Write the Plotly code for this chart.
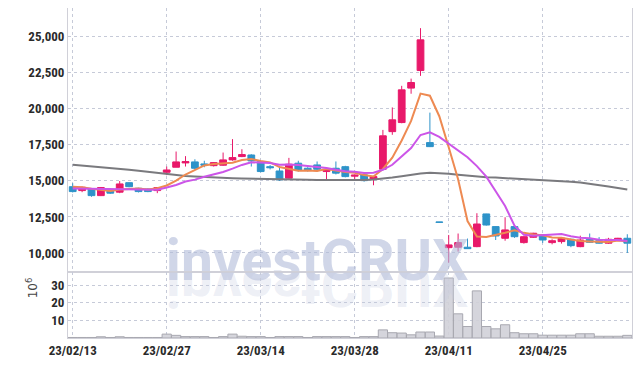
import plotly.graph_objects as go
from plotly.subplots import make_subplots

dates = ["23/02/13","23/02/14","23/02/15","23/02/16","23/02/17","23/02/20","23/02/21","23/02/22","23/02/23","23/02/24",
         "23/02/27","23/02/28","23/03/02","23/03/03","23/03/06","23/03/07","23/03/08","23/03/09","23/03/10","23/03/13",
         "23/03/14","23/03/15","23/03/16","23/03/17","23/03/20","23/03/21","23/03/22","23/03/23","23/03/24","23/03/27",
         "23/03/28","23/03/29","23/03/30","23/03/31","23/04/03","23/04/04","23/04/05","23/04/06","23/04/07","23/04/10",
         "23/04/11","23/04/12","23/04/13","23/04/14","23/04/17","23/04/18","23/04/19","23/04/20","23/04/21","23/04/24",
         "23/04/25","23/04/26","23/04/27","23/04/28","23/05/02","23/05/03","23/05/04","23/05/08","23/05/09","23/05/10"]

open_ = [14600,14330,14440,13980,14420,14220,14880,14490,14440,14330,
         15600,15950,16250,16320,16180,16060,16090,16460,16690,16800,
         16340,15990,15690,15190,16230,15880,16110,15650,15880,15990,
         15330,15420,15120,15810,18420,19050,21440,22660,17660,12150,
         10370,10400,10400,10440,12710,11830,11020,11830,10720,11090,
         11250,10720,10790,10950,10440,10950,10850,10680,10860,11020]
high = [14840,14600,14500,14580,14480,14990,14900,14520,14480,14560,
        16000,17040,16720,16500,16400,16300,16970,17900,17200,16850,
        16400,16100,15900,16600,16400,15950,16350,15800,16350,16050,
        15450,15550,15350,18540,20100,21600,22100,25600,19740,12150,
        11250,11350,11000,12760,12720,11850,12480,11900,11150,11400,
        11300,10950,11100,11000,11200,11350,11100,11050,11050,11300]
low = [14200,14220,13900,13950,14100,14150,14560,14200,14220,14150,
       15400,15950,16000,15800,15950,16000,16050,16400,16650,16000,
       15600,15800,15000,15150,15650,15650,15700,15100,15450,15250,
       15080,14950,14700,15750,18200,19000,21050,22290,17350,12120,
       9330,10100,10280,10400,11900,10900,10850,11050,10650,11050,
       10700,10600,10650,10400,10400,10700,10650,10630,10830,10000]
close = [14260,14560,13980,14540,14150,14790,14600,14260,14260,14540,
         15760,16320,16340,15880,16090,16270,16460,16620,16830,16390,
         15650,15920,15070,16160,15720,15720,15810,15760,15540,15300,
         15400,15020,15300,18130,19240,21320,21830,24790,17380,12130,
         10560,10720,10300,12010,11940,11180,11600,11130,11130,11370,
         10900,10850,11020,10510,10900,10740,10680,10950,11020,10680]

ma_short = [14600,14560,14450,14380,14298,14404,14412,14468,14412,14490,
            14684,15028,15444,15768,16078,16180,16208,16264,16454,16514,
            16390,16282,15972,15838,15704,15718,15696,15834,15710,15626,
            15562,15404,15312,15830,16618,17802,19164,21062,20912,19490,
            17338,15116,12218,11144,11106,11230,11406,11572,11396,11282,
            11226,11076,11054,10930,10836,10804,10770,10756,10858,10814]
ma_mid = [14480,14470,14450,14440,14430,14420,14420,14400,14390,14394,
          14544,14720,14956,15090,15284,15432,15618,15854,16111,16296,
          16285,16245,16118,16146,16109,16054,15989,15903,15774,15665,
          15640,15550,15573,15770,16122,16682,17284,18187,18371,18054,
          17570,17140,16640,16028,15298,14284,13261,11895,11270,11194,
          11228,11241,11313,11163,11059,11015,10923,10905,10894,10825]
ma_long = [16130,16080,16020,15960,15900,15840,15780,15700,15620,15540,
           15460,15400,15350,15310,15270,15240,15210,15190,15170,15150,
           15130,15120,15110,15100,15090,15080,15070,15060,15060,15060,
           15060,15070,15100,15150,15230,15320,15420,15520,15560,15550,
           15500,15430,15360,15300,15260,15230,15200,15170,15140,15110,
           15080,15040,15000,14950,14890,14810,14720,14620,14510,14400]

volume = [0.3,0.3,0.3,0.7,0.3,0.7,0.3,0.3,0.3,0.3,
          2.2,1.5,0.8,0.8,0.8,0.3,0.8,2.2,1.0,0.8,
          0.8,0.3,0.8,0.8,0.8,0.3,0.8,0.8,0.8,0.8,
          0.3,0.8,0.8,4.6,3.0,2.8,1.8,3.4,3.4,1.1,
          34.0,13.7,6.5,26.7,6.5,5.2,7.5,3.0,2.4,2.4,
          1.6,1.6,1.6,1.6,2.4,2.4,1.0,1.0,1.0,1.5]

price_ticks = [10000, 12500, 15000, 17500, 20000, 22500, 25000]
vol_ticks = [10, 20, 30]
date_tick_idx = [0, 10, 20, 30, 40, 50]
watermark = "investCRUX"

FONT = "Roboto Condensed, Liberation Sans Narrow, Roboto, DejaVu Sans Condensed, sans-serif"
WMFONT = "Roboto, Liberation Sans, DejaVu Sans, sans-serif"
UP = "#e8196a"
DOWN = "#2e93c9"
GRID = "#c6cad8"
AXLINE = "#d0d0d8"

fig = make_subplots(rows=2, cols=1, shared_xaxes=True, vertical_spacing=0,
                    row_heights=[0.8, 0.2])

fig.add_trace(go.Scatter(x=dates, y=ma_long, mode="lines",
                         line=dict(color="#7a7a7e", width=2), showlegend=False), row=1, col=1)

# watermark (drawn beneath the candles)
fig.add_trace(go.Scatter(x=[dates[26]], y=[9100], mode="text", text=[watermark],
                         textposition="middle center", cliponaxis=False,
                         textfont=dict(family=WMFONT, size=57, color="rgba(176,186,216,0.6)", weight="bold"),
                         hoverinfo="skip", showlegend=False), row=1, col=1)
fig.add_trace(go.Scatter(x=[dates[26]], y=[27.0], mode="text", text=[watermark],
                         textposition="middle center", cliponaxis=True,
                         textfont=dict(family=WMFONT, size=57, color="rgba(196,202,224,0.3)", weight="bold"),
                         hoverinfo="skip", showlegend=False), row=2, col=1)

fig.add_trace(go.Candlestick(x=dates, open=open_, high=high, low=low, close=close,
                             increasing=dict(line=dict(color=UP, width=1), fillcolor=UP),
                             decreasing=dict(line=dict(color=DOWN, width=1), fillcolor=DOWN),
                             showlegend=False), row=1, col=1)
fig.add_trace(go.Scatter(x=dates, y=ma_short, mode="lines",
                         line=dict(color="#ee8a52", width=2), showlegend=False), row=1, col=1)
fig.add_trace(go.Scatter(x=dates, y=ma_mid, mode="lines",
                         line=dict(color="#cc55e8", width=2), showlegend=False), row=1, col=1)

fig.add_trace(go.Bar(x=dates, y=volume, marker=dict(color="rgba(208,208,216,0.9)",
                                                    line=dict(color="#a8a8b0", width=1)),
                     showlegend=False), row=2, col=1)

fig.update_layout(
    width=634, height=358,
    margin=dict(l=60, r=10, t=0, b=28, autoexpand=False),
    paper_bgcolor="white", plot_bgcolor="white",
    font=dict(family=FONT, size=13, color="#333333"),
    bargap=0.02,
    boxgap=0.1, boxgroupgap=0.2,
    showlegend=False,
)
fig.update_xaxes(type="category", categoryorder="array", categoryarray=dates,
                 showgrid=True, gridcolor=GRID, griddash="dot", gridwidth=1,
                 tickvals=[dates[i] for i in date_tick_idx], ticktext=[dates[i] for i in date_tick_idx],
                 showline=True, linecolor=AXLINE, mirror=True, ticks="",
                 rangeslider=dict(visible=False),
                 range=[-0.5, 59.5],
                 tickfont=dict(family=FONT, size=13, color="#2a2a2a", weight="bold"))
fig.update_xaxes(showticklabels=False, row=1, col=1)
fig.update_yaxes(range=[8680, 27000], tickvals=price_ticks, tickformat=",",
                 showgrid=True, gridcolor=GRID, griddash="dot", zeroline=False,
                 showline=True, linecolor=AXLINE, mirror=True, ticks="",
                 tickfont=dict(family=FONT, size=13, color="#2a2a2a", weight="bold"),
                 row=1, col=1)
fig.update_yaxes(range=[0, 37.4], tickvals=vol_ticks,
                 showgrid=True, gridcolor=GRID, griddash="dot", zeroline=False,
                 showline=True, linecolor=AXLINE, mirror=True, ticks="",
                 tickfont=dict(family=FONT, size=13, color="#2a2a2a", weight="bold"),
                 row=2, col=1)
fig.add_annotation(text="10<sup>6</sup>", xref="paper", yref="paper", x=-0.082, y=0.115,
                   showarrow=False, textangle=-90, font=dict(family="DejaVu Sans, sans-serif", size=12, color="#444"))

post = """
var gd = document.getElementById('{plot_id}');
function flipWM(){
  var ts = gd.querySelectorAll('g.textpoint text');
  var found = [];
  ts.forEach(function(t){ if (t.textContent === 'investCRUX') found.push(t); });
  if (found.length > 1) {
    var t = found[1];
    t.style.transformBox = 'fill-box';
    t.style.transformOrigin = 'center';
    t.style.transform = 'scaleY(-1)';
  }
}
flipWM();
gd.on && gd.on('plotly_afterplot', flipWM);
"""
fig.write_html("out.html", post_script=post)
